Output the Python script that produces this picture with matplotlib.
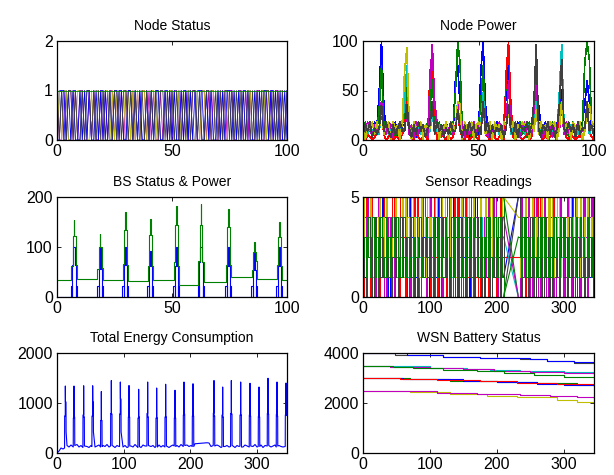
import numpy as np
import matplotlib
matplotlib.use("Agg")
import matplotlib.pyplot as plt

plt.rcParams['font.family'] = ['Liberation Sans', 'DejaVu Sans']

# old MATLAB colour order
C_B = (0, 0, 1)
C_G = (0, 0.5, 0)
C_R = (1, 0, 0)
C_C = (0, 0.75, 0.75)
C_M = (0.75, 0, 0.75)
C_Y = (0.75, 0.75, 0)
C_K = (0.25, 0.25, 0.25)

# ---- Node Status: 0/1 per step, t = 0..100 (groups of ten)
status_1 = "0110100110 0101101001 1010010110 0110101001 0101100110 1001011010 0110010110 1010011001 0110100101 1001101001 0"
status_2 = "1001011010 1100101001 0101101010 1001010110 1010010101 0110101001 1001101010 0101011001 1010100110 0101011010 1"
status_3 = "0101100101 1010010110 0110101001 0101010110 0110100101 1001010110 0101100110 1010010101 0101101001 1010010110 0"
status_4 = "1010011010 0101101010 1001010101 1010100101 0101011010 1010010101 1010011001 0101101010 1001010101 0110101010 1"
status_5 = "0011010100 1010100101 0101011010 0110101001 0101100101 0100101010 1011010100 1010110101 0101001010 1101010100 1"
status_on = "1111111111 1111111111 1111111111 1111111111 1111111111 1111111111 1111111111 1111111111 1111111111 1111111111 1"

# ---- Node Power: one base-36 char per step, value = char * 3, t = 0..100
power_blue = "3524164gxc 245361255i 4251634257 d352416352 kpc4251635 2nxc425163 35gr724613 5243aic526 14625ch435 241536ckd4 2"
power_green = "4615253ap5 362415266k 341652436a n426153425 gxq3524162 5cp5261543 26kk435162 4163cq6241 53624ad351 462315qxr4 5"
power_red = "10210123a2 012011024d 210210120n sc01210201 5a31020121 04c2102101 20nxc10210 12016k4102 01210fp310 2101205a31 0"
power_cyan = "34253242c3 42352435cp 4253425323 a245325342 4d35243524 35g3425342 534c245325 24535d3425 34253gw524 5342533d24 3"
power_mag = "52641534d3 265142633a 251624351k wd62415362 4c36152463 53a4162536 415k362514 6352am4615 261543c263 1526434c35 2"
power_yel = "60546263c2 56064506nv 5064560544 c360546065 3dc0645605 64c2560645 065a360546 56063a2645 065604d356 0645603ac6 5"
power_gray = "25361424c3 631524633c 4152635145 d263514263 3a41526351 42d3615243 514c326154 3625dw4153 62514cr426 3516244d35 1"

# ---- BS Status & Power
bs_spike_t = [7.4, 18.8, 29.7, 40.6, 51.9, 62.6, 74.5, 85.8, 96.7]
bs_base = [35, 37, 35, 32, 35, 25, 30, 40, 37, 35]
bs_rise = [63, 57, 67, 63, 70, 73, 65, 55, 65]
bs_mid = [122, 100, 135, 125, 145, 145, 140, 90, 120]
bs_peak = [155, 127, 170, 157, 183, 187, 176, 110, 150]
bs_post = [65, 58, 65, 62, 63, 70, 65, 72, 62]
bs_blue_pulse = [22, 22, 22, 22, 22, 22, 22, 22, 22]
bs_blue_shoulder = [65, 57, 65, 62, 63, 70, 63, 55, 63]
bs_blue_peak = [100, 100, 100, 92, 100, 100, 100, 88, 100]

# ---- Sensor Readings: value 0..5 every 2 steps, '.' = no sample
sensor_1 = "3142531420 2413524130 4213541231 1324153241 3412534120 2143152413 4123415231 3241325140 1432513241 2314123541 324131.... ......5241 3142413251 2413524132 4132415231 3241325142 1423513241 324"
sensor_2 = "2314432143 4132241321 3241312432 2413342124 1324213413 3241423142 2143341324 4132213241 3214432413 2431134124 314245.... ......0342 4132321241 3214123432 2431342124 4132213213 3241431132 241"
sensor_3 = "4052405140 2504125034 1450214051 3051420514 5204153042 0415203514 4205140253 1504203514 2053140520 4150325140 205142.... ......2051 4025140352 1504253041 3052410524 0451302514 2405130425 140"
sensor_4 = "1342312432 3124321342 2413214323 4231342124 1324213432 3412341213 2143231423 3214342132 4123214341 1342431223 241323.... ......0134 2413241324 3142314231 2314231423 4231423142 1423142314 231"
sensor_5 = "2413524130 3524130241 4130524135 1245301425 3041253014 5230412530 1425304125 3014253041 2530412530 4125304152 301424.... ......0253 1425304125 3041253014 2530412530 4125304125 3041253014 253"
sensor_6 = "5314253142 4251342513 3142531425 1534215342 2415324153 4312543125 5243152431 3125431254 1452314523 2534152341 413255.... ......4132 3521435214 1435214352 5214352143 2341524315 4152341523 412"
sensor_7 = "1302413024 2041312413 3024130241 4130241302 0241312413 1302413024 2413024130 3024130241 4130241302 0241302413 130240.... ......5302 4130241302 2413024130 3024130241 1302413024 0241302413 130"
sensor_8 = "2314213421 3124321423 1432341213 4213124132 2341213423 3142314231 1423213413 4312134124 2134312431 3241421342 143210.... ......3214 2413123421 3142413213 1324231432 4213142314 2341321423 312"

# ---- Total Energy Consumption
energy_base = [0, 40, 100, 80, 130, 150, 120, 160, 110, 140,
               170, 120, 150, 100, 160, 130, 110, 150, 170, 120,
               140, 160, 110, 150, 130, 170, 120, 160, 140, 110,
               150, 130, 180, 120, 150, 110, 160, 140, 120, 170,
               130, 150, 110, 160, 140, 120, 170, 130, 150, 110,
               140, 160, 120, 150, 130, 170, 110, 140, 160, 130,
               150, 120, 170, 140, 110, 160, 130, 150, 150, 185,
               None, None, None, None, None, 205, 200, 130, 150, 120,
               160, 140, 110, 170, 130, 150, 120, 160, 140, 110,
               150, 130, 170, 120, 160, 140, 110, 150, 130, 170,
               120, 140, 160, 110, 150, 130, 170, 120, 140, 160,
               110, 150, 130, 120, 160, 140]  # every 3 steps
energy_spike_t = [12.5, 25.5, 40, 53.5, 66.5, 81.5, 95, 108, 122.5, 136, 149.5, 163,
                  177, 190.5, 204, 235.5, 248.5, 261.5, 275.5, 289.5, 303, 316.5, 330, 343.5]
energy_pre = [100, 120, 110, 130, 120, 140, 130, 120, 110, 140, 130, 120,
              140, 130, 130, 150, 120, 130, 140, 120, 130, 140, 120, 130]
energy_rise = [740, 700, 760, 740, 650, 790, 780, 720, 700, 790, 700, 720,
               700, 760, 740, 800, 760, 790, 760, 760, 730, 790, 770, 760]
energy_peak = [1340, 1340, 1345, 1345, 1230, 1450, 1420, 1350, 1275, 1420, 1300, 1375,
               1255, 1420, 1385, 1450, 1320, 1450, 1420, 1395, 1320, 1495, 1420, 1400]
energy_fall = [1020, 720, 720, 1020, 650, 780, 1080, 720, 720, 720, 700, 720,
               700, 780, 740, 740, 720, 780, 760, 740, 720, 780, 740, 750]
energy_tail = [420, 150, 140, 420, 130, 150, 420, 140, 130, 150, 120, 140,
               130, 150, 130, 140, 130, 150, 120, 140, 130, 150, 140, 750]

# ---- WSN Battery Status: (step, level) where the level changes
bat_k4 = [(0, 3995), (48, 3935), (120, 3860), (175, 3800), (235, 3760), (275, 3690), (315, 3620), (345, 3620)]
bat_b4 = [(0, 3995), (65, 3935), (120, 3855), (175, 3805), (250, 3750), (275, 3680), (315, 3650), (345, 3650)]
bat_c35 = [(0, 3500), (50, 3470), (100, 3420), (155, 3380), (190, 3320), (235, 3280), (300, 3250), (345, 3225)]
bat_m35 = [(0, 3500), (40, 3460), (100, 3400), (150, 3360), (195, 3300), (250, 3260), (300, 3200), (345, 3165)]
bat_g35 = [(0, 3490), (45, 3440), (75, 3390), (120, 3330), (170, 3270), (210, 3200), (255, 3130), (300, 3050), (345, 2960)]
bat_g3 = [(0, 2990), (70, 2960), (130, 2900), (200, 2830), (260, 2790), (320, 2730), (345, 2720)]
bat_b3 = [(0, 2990), (60, 2960), (150, 2880), (200, 2840), (260, 2780), (300, 2720), (345, 2740)]
bat_r3 = [(0, 2985), (55, 2970), (110, 2920), (175, 2870), (230, 2820), (290, 2760), (345, 2700)]
bat_y25 = [(0, 2490), (70, 2450), (130, 2380), (185, 2300), (230, 2230), (290, 2130), (320, 2060), (345, 1985)]
bat_m25 = [(0, 2500), (60, 2470), (110, 2410), (170, 2380), (235, 2330), (280, 2280), (320, 2230), (345, 2185)]


def chars(s):
    return [c for c in s if c != ' ']


def style(ax, xmax, ymax, xticks, yticks, title):
    ax.set_xlim(0, xmax)
    ax.set_ylim(0, ymax)
    ax.set_xticks(xticks)
    ax.set_yticks(yticks)
    ax.tick_params(direction='in', length=3, width=0.6, top=True, right=True,
                   labelsize=11.5, pad=3, colors='black')
    for sp in ax.spines.values():
        sp.set_linewidth(0.9)
        sp.set_zorder(5)
    ax.set_title(title, fontsize=10, pad=8)


W, H = 614, 475


def box(left, top, right, bottom):
    return [left / W, 1 - bottom / H, (right - left) / W, (bottom - top) / H]


fig = plt.figure(figsize=(6.14, 4.75), dpi=100)
LW = 0.8
THIN = 0.5  # one-pixel aliased lines for the dense panels

# Node Status
ax = fig.add_axes(box(57, 41, 287, 140))
for s, col in [(status_1, C_B), (status_2, C_M), (status_3, C_Y), (status_5, C_B),
               (status_4, C_K), (status_on, C_G)]:
    v = [int(c) for c in chars(s)]
    ax.plot(np.arange(len(v)), v, color=col, lw=0.6)
style(ax, 100, 2, [0, 50, 100], [0, 1, 2], 'Node Status')

# Node Power
ax = fig.add_axes(box(363, 41, 594, 140))
for s, col in [(power_blue, C_B), (power_green, C_G), (power_red, C_R), (power_cyan, C_C),
               (power_mag, C_M), (power_yel, C_Y), (power_gray, C_K)]:
    v = [int(c, 36) * 3 for c in chars(s)]
    ax.plot(np.arange(len(v)), v, color=col, lw=THIN, antialiased=False)
style(ax, 100, 100, [0, 50, 100], [0, 50, 100], 'Node Power')

# BS Status & Power
ax = fig.add_axes(box(57, 197, 287, 297))
bx, by = [0], [0]
gx, gy = [0], [bs_base[0]]
for i, c in enumerate(bs_spike_t):
    bx += [c - 1.3, c - 0.7, c - 0.7, c - 0.3, c + 0.3, c + 0.7, c + 0.7, c + 1.3]
    by += [bs_blue_pulse[i], 0, bs_blue_shoulder[i], bs_blue_peak[i], bs_blue_shoulder[i],
           0, bs_blue_pulse[i], 0]
    gx += [c - 1.2, c - 0.6, c - 0.05, c + 0.1, c + 0.65, c + 1.25]
    gy += [bs_rise[i], bs_mid[i], bs_peak[i], bs_mid[i], bs_post[i], bs_base[i + 1]]
bx.append(100)
by.append(0)
gx.append(100)
gy.append(bs_base[-1])
ax.plot(bx, by, color=C_B, lw=LW, drawstyle='steps-post')
ax.plot(gx, gy, color=C_G, lw=LW, drawstyle='steps-post')
style(ax, 100, 200, [0, 50, 100], [0, 100, 200], 'BS Status & Power')

# Sensor Readings: stairs where sampled, straight line across the missing stretch
ax = fig.add_axes(box(363, 197, 594, 297))
for s, col in [(sensor_1, C_B), (sensor_2, C_G), (sensor_3, C_R), (sensor_4, C_C),
               (sensor_5, C_M), (sensor_6, C_Y), (sensor_7, C_K), (sensor_8, C_G)]:
    cs = chars(s)
    gap = [i for i, c in enumerate(cs) if c == '.']
    a, b = gap[0], gap[-1] + 1
    for seg in (range(0, a), range(b, len(cs))):
        ax.plot([2 * i for i in seg], [int(cs[i]) for i in seg], color=col, lw=THIN,
                drawstyle='steps-post', antialiased=False)
    ax.plot([2 * (a - 1), 2 * b], [int(cs[a - 1]), int(cs[b])], color=col, lw=LW)
style(ax, 345, 5, [0, 100, 200, 300], [0, 5], 'Sensor Readings')

# Total Energy Consumption
ax = fig.add_axes(box(57, 353, 287, 453))
pts = []
for i, v in enumerate(energy_base):
    t = 3 * i
    if v is None or any(c - 1.6 < t < c + 2.3 for c in energy_spike_t):
        continue
    pts.append((t, v))
for i, c in enumerate(energy_spike_t):
    pts += [(c - 1.15, energy_pre[i]), (c - 1, energy_rise[i]), (c - 0.1, energy_rise[i]),
            (c, energy_peak[i]), (c + 0.2, energy_fall[i]), (c + 1, energy_fall[i]),
            (c + 1.15, energy_tail[i])]
pts.sort()
ax.plot([p[0] for p in pts], [p[1] for p in pts], color=C_B, lw=LW)
style(ax, 345, 2000, [0, 100, 200, 300], [0, 1000, 2000], 'Total Energy Consumption')

# WSN Battery Status
ax = fig.add_axes(box(363, 353, 594, 453))
for line, col in [(bat_k4, C_K), (bat_b4, C_B), (bat_c35, C_C), (bat_m35, C_M), (bat_g35, C_G),
                  (bat_g3, C_G), (bat_b3, C_B), (bat_r3, C_R), (bat_y25, C_Y), (bat_m25, C_M)]:
    ax.plot([p[0] for p in line], [p[1] for p in line], color=col, lw=LW, drawstyle='steps-post')
style(ax, 345, 4000, [0, 100, 200, 300], [0, 2000, 4000], 'WSN Battery Status')

fig.savefig('out.png', dpi=100)
